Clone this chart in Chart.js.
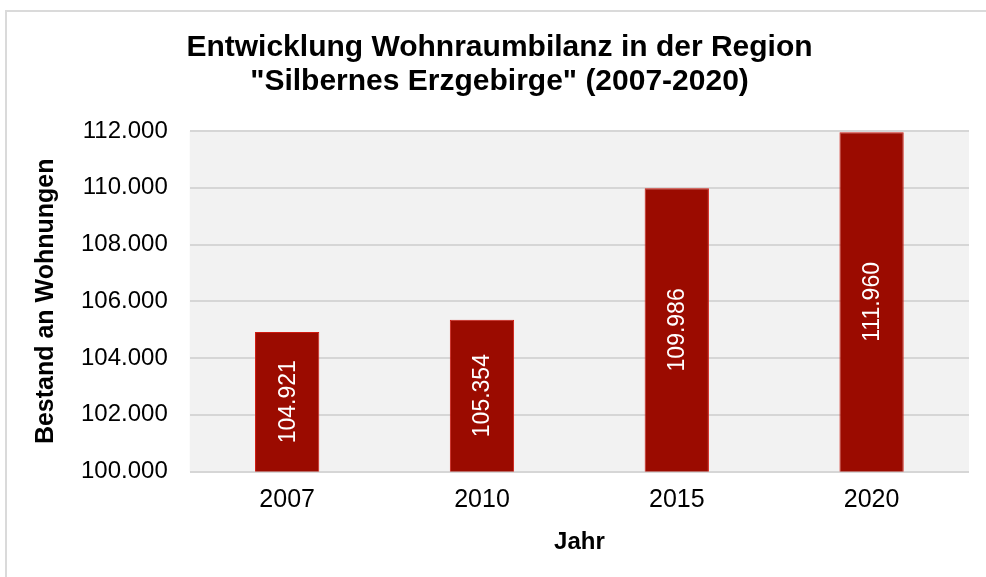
<!DOCTYPE html>
<html lang="de">
<head>
<meta charset="utf-8">
<title>Wohnraumbilanz Silbernes Erzgebirge</title>
<script src="https://cdn.jsdelivr.net/npm/chart.js@4"></script>
<style>
    html, body {
        margin: 0;
        padding: 0;
        overflow: hidden;
        background: #ffffff;
    }

    #chart-box {
        position: absolute;
        left: 5px;
        top: 10px;
        width: 985px;
        height: 565px;
        border-left: 2px solid #dadada;
        border-top: 2px solid #dadada;
    }
</style>
</head>
<body>
<div id="chart-box">
    <canvas id="wohnraum-chart"></canvas>
</div>

<script>
const years = ['2007', '2010', '2015', '2020'];
const dwellings = [104921, 105354, 109986, 111960];
const yMin = 100000;
const yMax = 112000;
const yStep = 2000;

const fontFamily = '"Liberation Sans", Arial, sans-serif';

// 104921 -> "104.921"
function formatNumberDE(value) {
    return String(Math.round(value)).replace(/\B(?=(\d{3})+(?!\d))/g, '.');
}

// grey background behind the plot area
const plotBackground = {
    id: 'plotBackground',
    beforeDraw(chart) {
        let c = chart.ctx;
        let area = chart.chartArea;
        c.save();
        c.fillStyle = '#f2f2f2';
        c.fillRect(area.left, area.top, area.right - area.left, area.bottom - area.top);
        c.restore();
    }
};

// rotated value label in the middle of every bar
const barValueLabels = {
    id: 'barValueLabels',
    afterDraw(chart) {
        let c = chart.ctx;
        let xScale = chart.scales.x;
        let yScale = chart.scales.y;
        let values = chart.data.datasets[0].data;

        c.save();
        c.fillStyle = '#ffffff';
        c.font = '23px ' + fontFamily;
        c.textAlign = 'center';
        c.textBaseline = 'middle';

        values.forEach(function (value, i) {
            let x = xScale.getPixelForValue(i);
            let midY = (yScale.getPixelForValue(value) + yScale.getPixelForValue(yMin)) / 2;
            c.save();
            c.translate(x + 1, midY);
            c.rotate(-Math.PI / 2);
            c.fillText(formatNumberDE(value), 0, 0);
            c.restore();
        });

        c.restore();
    }
};

let ctx = document.getElementById('wohnraum-chart').getContext('2d');

let wohnraumChart = new Chart(ctx, {
    type: 'bar',
    data: {
        labels: years,
        datasets: [{
            label: 'Bestand an Wohnungen',
            data: dwellings,
            backgroundColor: '#9b0b00',
            borderColor: '#d01a10',
            borderWidth: 1,
            borderSkipped: false,
            categoryPercentage: 1,
            barPercentage: 0.33
        }]
    },
    options: {
        responsive: true,
        maintainAspectRatio: false,
        animation: false,
        layout: {
            padding: { left: 23, right: 23, top: 0, bottom: 17 }
        },
        plugins: {
            legend: { display: false },
            tooltip: { enabled: false },
            title: {
                display: true,
                text: ['Entwicklung Wohnraumbilanz in der Region', '"Silbernes Erzgebirge" (2007-2020)'],
                color: '#000000',
                font: { family: fontFamily, size: 30, weight: 'bold', lineHeight: 1.15 },
                padding: { top: 18, bottom: 32 }
            }
        },
        scales: {
            x: {
                grid: { display: false, drawTicks: false },
                border: { display: false },
                ticks: {
                    color: '#000000',
                    padding: 14,
                    font: { family: fontFamily, size: 25 }
                },
                title: {
                    display: true,
                    text: 'Jahr',
                    color: '#000000',
                    font: { family: fontFamily, size: 24, weight: 'bold', lineHeight: 1.1 },
                    padding: { top: 0, bottom: 4 }
                }
            },
            y: {
                min: yMin,
                max: yMax,
                grid: {
                    color: '#d6d6d6',
                    lineWidth: 2,
                    drawTicks: false
                },
                border: { display: false },
                ticks: {
                    stepSize: yStep,
                    color: '#000000',
                    padding: 22,
                    font: { family: fontFamily, size: 24 },
                    callback: function (value) {
                        return formatNumberDE(value);
                    }
                },
                title: {
                    display: true,
                    text: 'Bestand an Wohnungen',
                    color: '#000000',
                    font: { family: fontFamily, size: 25, weight: 'bold', lineHeight: 1.0 },
                    padding: { top: 4, bottom: 0 }
                }
            }
        }
    },
    plugins: [plotBackground, barValueLabels]
});
</script>
</body>
</html>
